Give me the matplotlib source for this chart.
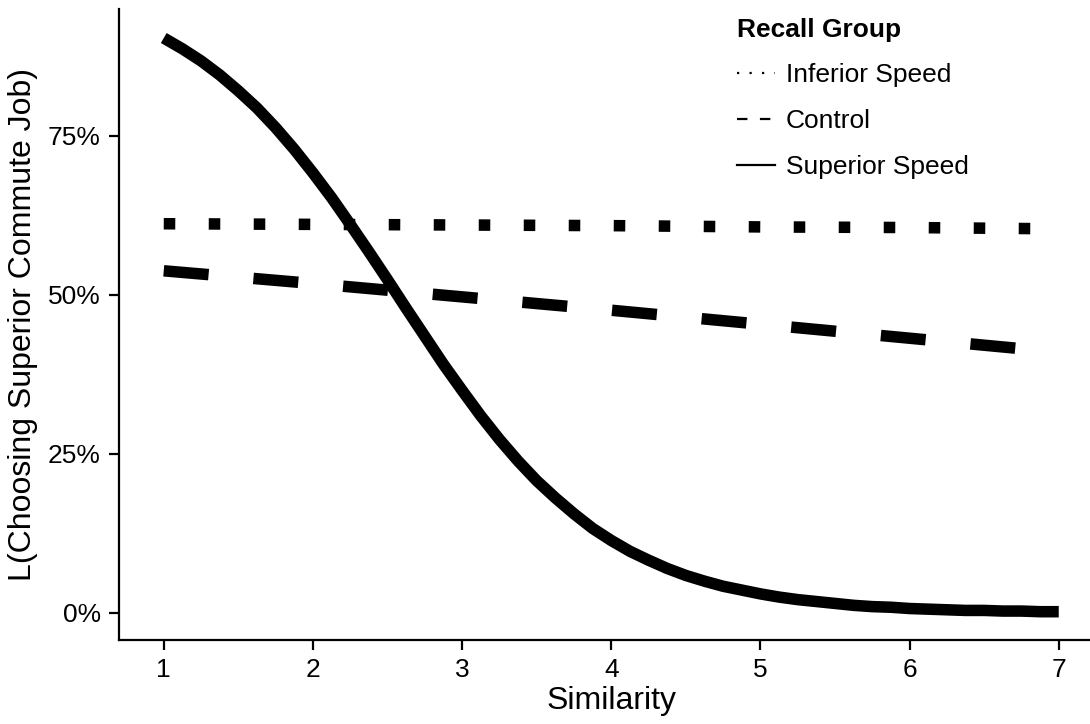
import numpy as np
import matplotlib
matplotlib.use("Agg")
import matplotlib.pyplot as plt
from matplotlib.lines import Line2D
from matplotlib.ticker import PercentFormatter

plt.rcParams['font.family'] = ['Liberation Sans', 'DejaVu Sans']
plt.rcParams['lines.scale_dashes'] = False

# values
sim_fine = [1.0, 1.125, 1.25, 1.375, 1.5, 1.625, 1.75, 1.875, 2.0, 2.125,
            2.25, 2.375, 2.5, 2.625, 2.75, 2.875, 3.0, 3.125, 3.25, 3.375,
            3.5, 3.625, 3.75, 3.875, 4.0, 4.125, 4.25, 4.375, 4.5, 4.625,
            4.75, 4.875, 5.0, 5.125, 5.25, 5.375, 5.5, 5.625, 5.75, 5.875,
            6.0, 6.125, 6.25, 6.375, 6.5, 6.625, 6.75, 6.875, 7.0]
superior = [0.904, 0.887, 0.868, 0.846, 0.821, 0.794, 0.763, 0.729, 0.692,
            0.653, 0.611, 0.568, 0.524, 0.479, 0.435, 0.391, 0.350, 0.310,
            0.273, 0.239, 0.208, 0.181, 0.156, 0.133, 0.114, 0.097, 0.083,
            0.070, 0.059, 0.050, 0.042, 0.036, 0.030, 0.025, 0.021, 0.018,
            0.015, 0.012, 0.010, 0.009, 0.007, 0.006, 0.005, 0.004, 0.004,
            0.003, 0.003, 0.002, 0.002]
sim = [1, 2, 3, 4, 5, 6, 7]
inferior = [0.612, 0.611, 0.610, 0.609, 0.607, 0.606, 0.604]
control = [0.538, 0.518, 0.497, 0.476, 0.454, 0.432, 0.410]

groups = ["Inferior Speed", "Control", "Superior Speed"]

fig = plt.figure(figsize=(10.9, 7.24), dpi=100)
ax = fig.add_axes([119 / 1090, 84 / 724, 984.5 / 1090, 630.6 / 724])

lw = 8.3
ax.plot(sim, inferior, color="black", lw=lw, dashes=(8.3, 24.1),
        dash_capstyle="butt")
ax.plot(sim, control, color="black", lw=lw, dashes=(32.4, 32.4),
        dash_capstyle="butt")
ax.plot(sim_fine, superior, color="black", lw=lw, solid_capstyle="butt",
        solid_joinstyle="round")

ax.set_xlim(0.7, 7.3)
ax.set_ylim(-0.0425, 0.949)
ax.set_xticks(range(1, 8))
ax.set_yticks([0, 0.25, 0.5, 0.75])
ax.yaxis.set_major_formatter(PercentFormatter(1.0, decimals=0))

for s in ["top", "right"]:
    ax.spines[s].set_visible(False)
for s in ["left", "bottom"]:
    ax.spines[s].set_linewidth(1.6)
ax.tick_params(width=1.6, length=7, labelsize=19, pad=6, colors="black")

ax.set_xlabel("Similarity", fontsize=23, labelpad=3)
ax.set_ylabel("L(Choosing Superior Commute Job)", fontsize=23, labelpad=7)

handles = [
    Line2D([], [], color="black", lw=1.6, dashes=(1.6, 7.4)),
    Line2D([], [], color="black", lw=1.6, dashes=(7.5, 9)),
    Line2D([], [], color="black", lw=1.6),
]
leg = ax.legend(handles, groups, title="Recall Group", loc="upper left",
                bbox_to_anchor=(726 / 1090, 1 - 7 / 724),
                bbox_transform=fig.transFigure, frameon=False, fontsize=19,
                title_fontproperties={"weight": "bold", "size": 19},
                handlelength=1.44, handletextpad=0.42, labelspacing=0.83,
                alignment="left", borderaxespad=0)

fig.savefig("out.png", dpi=100)
